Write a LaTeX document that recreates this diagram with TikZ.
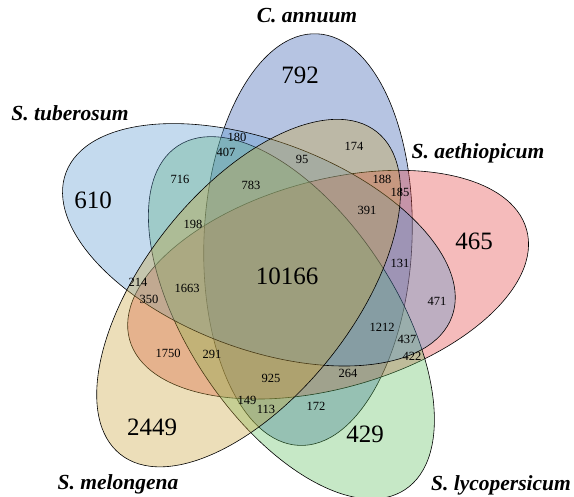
\documentclass[tikz,border=0pt]{standalone}
\usepackage{fontspec}
\setmainfont{Liberation Serif}
\usepackage{tikz}

\definecolor{annuumc}{RGB}{46,86,172}
\definecolor{tuberosumc}{RGB}{86,149,206}
\definecolor{aethiopicumc}{RGB}{226,61,61}
\definecolor{lycopersicumc}{RGB}{92,189,92}
\definecolor{melongenac}{RGB}{201,161,55}

\begin{document}
\begin{tikzpicture}[x=1pt, y=-1pt,
    set/.style={fill opacity=0.35, draw=black, line width=0.6pt},
    big/.style={font=\fontsize{25}{25}\selectfont},
    small/.style={font=\fontsize{12.5}{12.5}\selectfont},
    title/.style={font=\fontsize{21.5}{21.5}\selectfont\bfseries\itshape}]
    \useasboundingbox (0,0) rectangle (574,497);

    % the five sets
    \filldraw[set, fill=annuumc, rotate around={87.5:(308,239.6)}] (308,239.6) ellipse [x radius=206pt, y radius=104pt];
    \filldraw[set, fill=aethiopicumc, rotate around={15.5:(328.1,284.7)}] (328.1,284.7) ellipse [x radius=206pt, y radius=104pt];
    \filldraw[set, fill=lycopersicumc, rotate around={303.5:(291.4,317.8)}] (291.4,317.8) ellipse [x radius=206pt, y radius=104pt];
    \filldraw[set, fill=tuberosumc, rotate around={159.5:(258.9,244.8)}] (258.9,244.8) ellipse [x radius=206pt, y radius=104pt];
    \filldraw[set, fill=melongenac, rotate around={231.5:(248.6,293.1)}] (248.6,293.1) ellipse [x radius=206pt, y radius=104pt];

    % set names
    \node (annuum) [title] at (307,16) {C. annuum};
    \node (tuberosum) [title] at (70,113) {S. tuberosum};
    \node (aethiopicum) [title] at (478,153) {S. aethiopicum};
    \node (melongena) [title] at (118,484) {S. melongena};
    \node (lycopersicum) [title] at (501,485) {S. lycopersicum};

    % counts
    \node (n792) [big] at (300,75) {792};
    \node (n610) [big] at (93,200) {610};
    \node (n465) [big] at (474,241) {465};
    \node (n2449) [big] at (152,427) {2449};
    \node (n429) [big] at (365,434) {429};
    \node (n10166) [big] at (287,276) {10166};

    \node (n180) [small] at (237,137) {180};
    \node (n407) [small] at (226,152) {407};
    \node (n716) [small] at (180,179) {716};
    \node (n783) [small] at (251,185) {783};
    \node (n198) [small] at (193,224) {198};
    \node (n95) [small] at (302,159) {95};
    \node (n174) [small] at (354,146) {174};
    \node (n188) [small] at (382,179) {188};
    \node (n185) [small] at (400,192) {185};
    \node (n391) [small] at (367,210) {391};
    \node (n131) [small] at (400,263) {131};
    \node (n471) [small] at (437,301) {471};
    \node (n1212) [small] at (382,327) {1212};
    \node (n437) [small] at (407,339) {437};
    \node (n422) [small] at (412,356) {422};
    \node (n264) [small] at (348,373) {264};
    \node (n172) [small] at (316,406) {172};
    \node (n214) [small] at (138,282) {214};
    \node (n350) [small] at (149,299) {350};
    \node (n1663) [small] at (187,288) {1663};
    \node (n1750) [small] at (168,353) {1750};
    \node (n291) [small] at (212,354) {291};
    \node (n925) [small] at (271,378) {925};
    \node (n149) [small] at (247,400) {149};
    \node (n113) [small] at (266,409) {113};
\end{tikzpicture}
\end{document}
